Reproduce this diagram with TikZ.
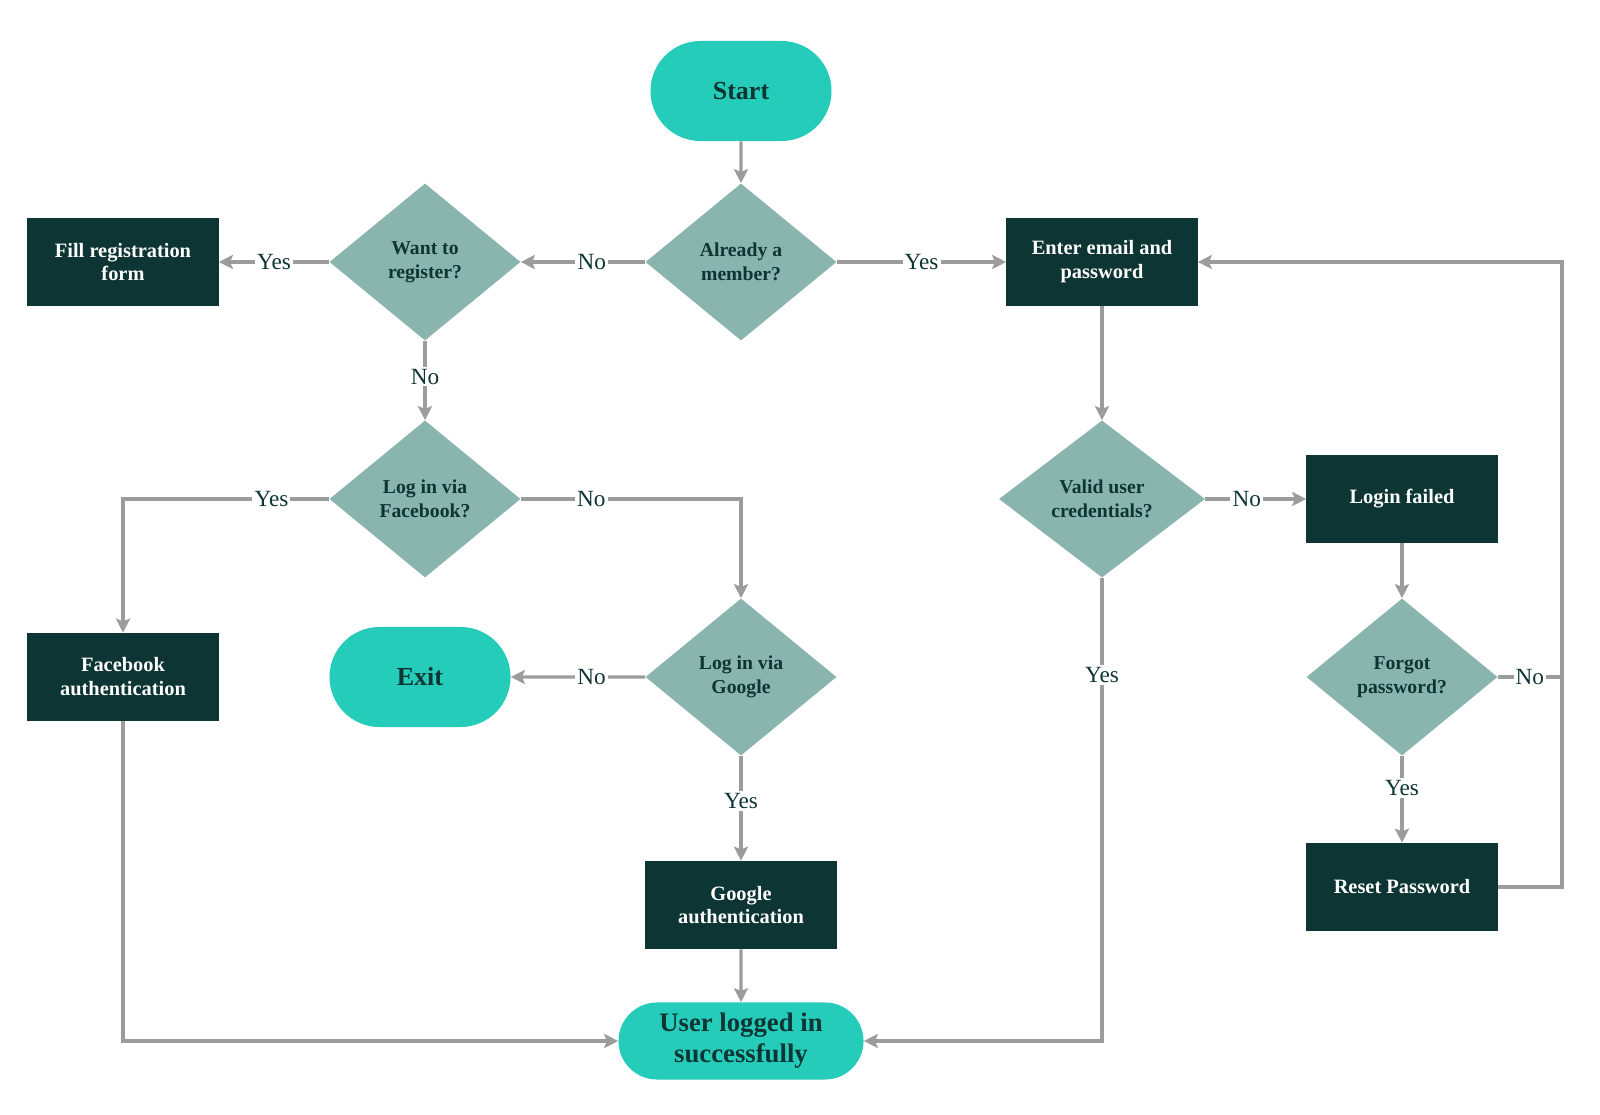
\documentclass[tikz,border=0pt]{standalone}
\usepackage{fontspec}
\setmainfont{Liberation Serif}
\usetikzlibrary{shapes.geometric, shapes.misc, positioning, arrows.meta}

\definecolor{mint}{HTML}{26CCBA}
\definecolor{sage}{HTML}{8AB5AE}
\definecolor{pine}{HTML}{0D3533}
\definecolor{wire}{HTML}{9C9C9C}

\tikzset{
  term/.style={rounded rectangle, fill=mint, text=pine, align=center,
    minimum width=4.525cm, minimum height=2.5cm, inner sep=0pt,
    font=\bfseries\fontsize{18.5}{22}\selectfont},
  task/.style={rectangle, fill=pine, text=white, align=center,
    minimum width=4.775cm, minimum height=2.2cm, inner sep=0pt,
    font=\bfseries\fontsize{14.5}{17}\selectfont},
  ask/.style={diamond, fill=sage, text=pine, align=center, aspect=1.2,
    minimum width=4.775cm, minimum height=3.925cm, inner sep=0pt,
    font=\bfseries\fontsize{14}{17}\selectfont},
  wire/.style={draw=wire, line width=2.2pt},
  lbl/.style={fill=white, text=pine, inner sep=1.5pt,
    font=\fontsize{16.5}{18}\selectfont}
}

\begin{document}
\begin{tikzpicture}[x=0.025cm, y=-0.025cm, >={Stealth[length=10pt, width=10pt, inset=2pt]}]
    \useasboundingbox (0,0) rectangle (1600,1115);

    % 1. Terminals
    \node[term] (start) at (741,91) {Start};
    \node[term] (exit) at (420,677) {Exit};
    \node[term, minimum width=6.125cm, minimum height=1.925cm,
      font=\bfseries\fontsize{19}{22}\selectfont] (done) at (741,1041) {User logged in\\successfully};

    % 2. Decisions
    \node[ask] (member) at (741,262) {Already a\\member?};
    \node[ask] (register) at (425,262) {Want to\\register?};
    \node[ask] (facebook) at (425,499) {Log in via\\Facebook?};
    \node[ask] (google) at (741,677) {Log in via\\Google};
    \node[ask, minimum width=5.15cm] (valid) at (1102,499) {Valid user\\credentials?};
    \node[ask] (forgot) at (1402,677) {Forgot\\password?};

    % 3. Tasks
    \node[task] (fill) at (123,262) {Fill registration\\form};
    \node[task] (email) at (1102,262) {Enter email and\\password};
    \node[task] (failed) at (1402,499) {Login failed};
    \node[task] (fbauth) at (123,677) {Facebook\\authentication};
    \node[task] (gauth) at (741,905) {Google\\authentication};
    \node[task] (reset) at (1402,887) {Reset Password};

    \coordinate (loop) at (1562,677);

    % 4. Connectors
    \draw[wire, ->] (start) -- (member);
    \draw[wire, ->] (member) -- node[lbl] {Yes} (email);
    \draw[wire, ->] (member) -- node[lbl, pos=0.43] {No} (register);
    \draw[wire, ->] (register) -- node[lbl] {Yes} (fill);
    \draw[wire, ->] (register) -- node[lbl, pos=0.45] {No} (facebook);
    \draw[wire, ->] (facebook) -| node[lbl, pos=0.14] {Yes} (fbauth);
    \draw[wire, ->] (facebook) -| node[lbl, pos=0.16] {No} (google);
    \draw[wire, ->] (google) -- node[lbl, pos=0.4] {No} (exit);
    \draw[wire, ->] (google) -- node[lbl, pos=0.43] {Yes} (gauth);
    \draw[wire, ->] (gauth) -- (done);
    \draw[wire, ->] (fbauth) |- (done);
    \draw[wire, ->] (email) -- (valid);
    \draw[wire, ->] (valid) -- node[lbl, pos=0.41] {No} (failed);
    \draw[wire, ->] (valid) |- node[lbl, pos=0.105] {Yes} (done);
    \draw[wire, ->] (failed) -- (forgot);
    \draw[wire, ->] (forgot) -- node[lbl, pos=0.37] {Yes} (reset);
    \draw[wire] (forgot) -- node[lbl] {No} (loop);
    \draw[wire, ->] (reset.east) -| (loop) |- (email.east);
\end{tikzpicture}
\end{document}
